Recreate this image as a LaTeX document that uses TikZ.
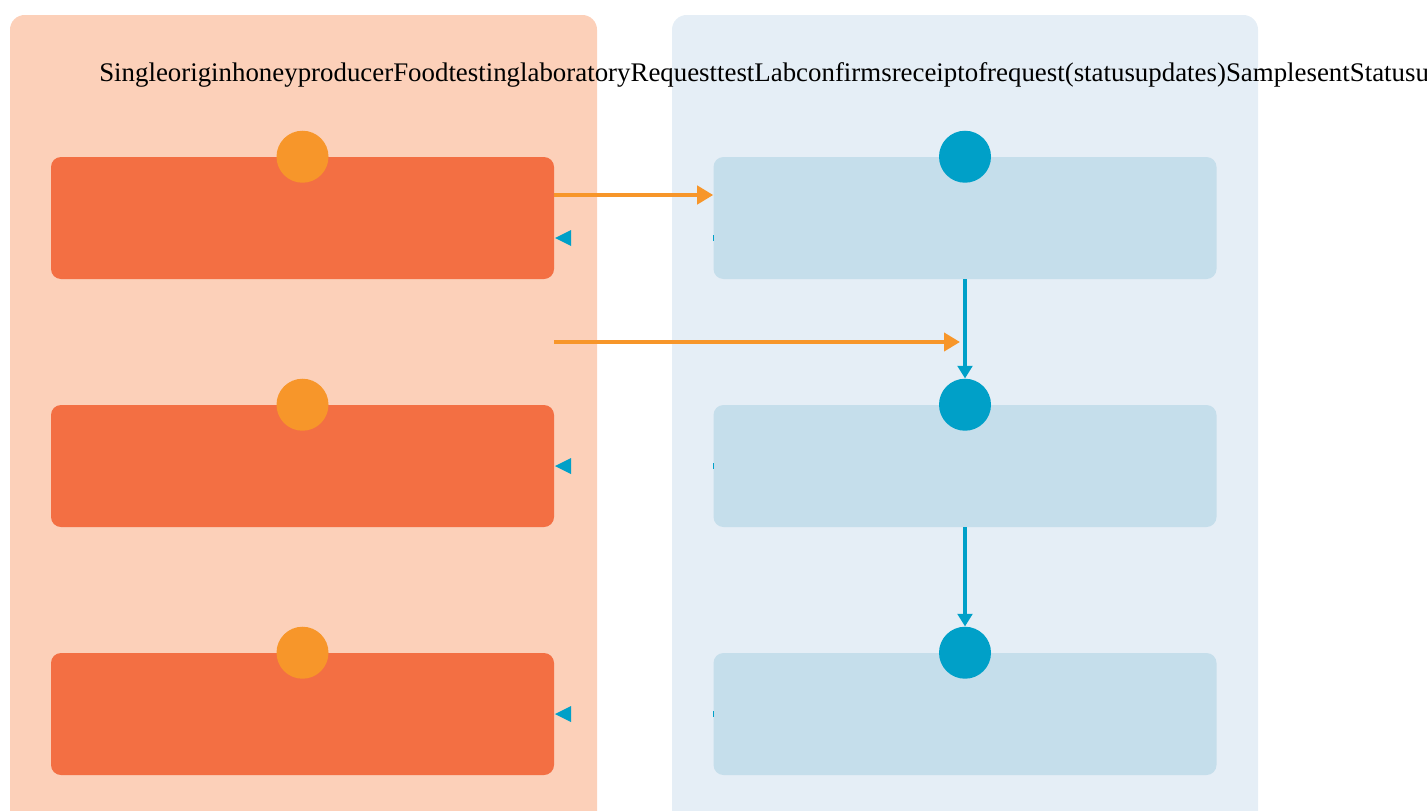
\documentclass[tikz,border=0pt]{standalone}
\usepackage{fontspec}
\setmainfont{Liberation Serif}
\usetikzlibrary{arrows.meta}
\definecolor{peachlane}{HTML}{FCD0B9}
\definecolor{bluelane}{HTML}{E5EEF6}
\definecolor{honeybox}{HTML}{F36F43}
\definecolor{labbox}{HTML}{C5DEEB}
\definecolor{honeydot}{HTML}{F7962A}
\definecolor{labdot}{HTML}{00A0C8}
\tikzstyle{lane}=[
        rounded corners=11pt
]
\tikzstyle{stepbox}=[
        rectangle,
        rounded corners=7.5pt,
        minimum width=377.25pt,
        minimum height=91.5pt,
        inner sep=0pt
]
\tikzstyle{dot}=[
        circle,
        minimum size=39pt,
        inner sep=0pt
]
\tikzstyle{sendarrow}=[
        draw=honeydot,
        line width=3.5pt,
        -{Triangle[length=12pt,width=13.5pt]}
]
\tikzstyle{labarrow}=[
        draw=labdot,
        line width=3.5pt,
        -{Triangle[length=9.5pt,width=11pt]}
]

\begin{document}
\begin{tikzpicture}[x=0.75pt,y=-0.75pt]
                    \useasboundingbox (0,0) rectangle (1427,810);

                    % lanes
                    \fill[peachlane,lane] (10,15) rectangle (597,840);
                    \fill[bluelane,lane] (672,15) rectangle (1258,840);

                    \node[anchor=base west,font=\fontsize{20.15pt}{24pt}\selectfont,inner sep=0pt] (title) at (99,81)
                        {SingleoriginhoneyproducerFoodtestinglaboratoryRequesttestLabconfirmsreceiptofrequest(statusupdates)SamplesentStatusupdates};

                    % producer steps
                    \node[stepbox,fill=honeybox] (p1) at (302.5,218) {};
                    \node[stepbox,fill=honeybox] (p2) at (302.5,466) {};
                    \node[stepbox,fill=honeybox] (p3) at (302.5,714) {};

                    % laboratory steps
                    \node[stepbox,fill=labbox] (l1) at (965,218) {};
                    \node[stepbox,fill=labbox] (l2) at (965,466) {};
                    \node[stepbox,fill=labbox] (l3) at (965,714) {};

                    \foreach \i in {1,2,3} {
                        \node[dot,fill=honeydot] (c\i) at (p\i.north) {};
                        \node[dot,fill=labdot] (d\i) at (l\i.north) {};
                    }

                    \coordinate (m) at (960,342);

                    \draw[sendarrow] (p1.east |- 0,195) -- (l1.west |- 0,195);
                    \draw[sendarrow] (p1.east |- m) -- (m);

                    \draw[labarrow] (l1.south) -- (d2.north);
                    \draw[labarrow] (l2.south) -- (d3.north);

                    % replies
                    \foreach \y in {238,466,714} {
                        \fill[labdot] (555,\y) -- (571,\y-8) -- (571,\y+8) -- cycle;
                        \draw[labdot,line width=1pt] (713.5,\y-3) -- (713.5,\y+3);
                    }

                \end{tikzpicture}
\end{document}
